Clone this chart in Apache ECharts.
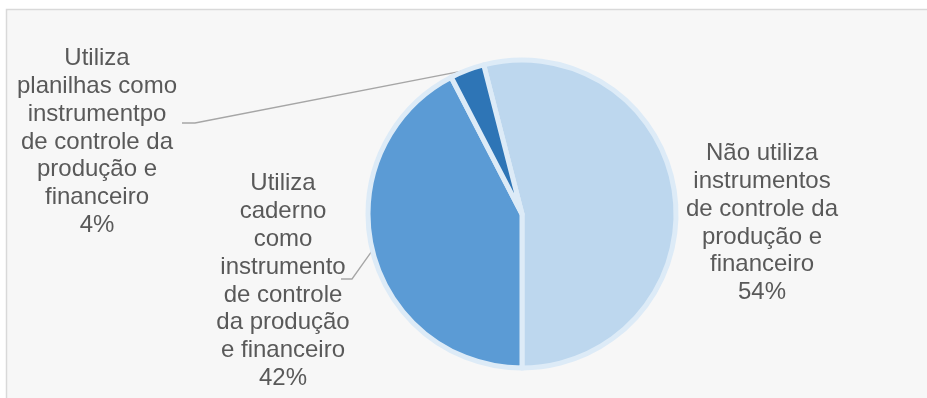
<!DOCTYPE html>
<html><head><meta charset="utf-8">
<script src="https://cdn.jsdelivr.net/npm/echarts@6/dist/echarts.min.js"></script>
<style>html,body{margin:0;padding:0;background:#fff;} #c{width:927px;height:398px;}</style>
</head><body><div id="c"></div>
<script>
const categories = [
  'Não utiliza\ninstrumentos\nde controle da\nprodução e\nfinanceiro',
  'Utiliza\ncaderno\ncomo\ninstrumento\nde controle\nda produção\ne financeiro',
  'Utiliza\nplanilhas como\ninstrumentpo\nde controle da\nprodução e\nfinanceiro'
];
const values = [54.0, 42.4, 3.6];
const colors = ['#BDD7EE', '#5B9BD5', '#2E75B6'];

// label placement (layout only)
const labelPos = [
  {x: 762, y: 223},
  {x: 283, y: 281, lineY: 279, lineRight: 341, elbow: 352},
  {x: 97, y: 142, lineY: 123, lineRight: 182, elbow: 195}
];

const chart = echarts.init(document.getElementById('c'), null, {renderer: 'canvas'});
chart.setOption({
  animation: false,
  graphic: [{
    type: 'rect', z: -10, silent: true,
    shape: {x: 6.5, y: 9.5, width: 1000, height: 500},
    style: {fill: '#F7F7F7', stroke: '#D9D9D9', lineWidth: 1.5}
  }],
  series: [{
    type: 'pie',
    center: [522, 214],
    radius: 154,
    startAngle: 104.4,
    clockwise: true,
    avoidLabelOverlap: false,
    silent: true,
    itemStyle: {borderColor: '#DDEBF7', borderWidth: 5},
    label: {
      show: true,
      position: 'outside',
      formatter: function (p) { return p.name + '\n' + Math.round(p.percent) + '%'; },
      color: '#595959',
      fontFamily: 'Liberation Sans, Arial, sans-serif',
      fontSize: 24,
      lineHeight: 27.8,
      align: 'center'
    },
    labelLine: {show: true, lineStyle: {color: '#A6A6A6', width: 1.3}},
    labelLayout: function (params) {
      const p = labelPos[params.dataIndex];
      const out = {x: p.x, y: p.y, align: 'center', verticalAlign: 'middle'};
      if (p.lineY != null && params.labelLinePoints) {
        const a = params.labelLinePoints[0];
        out.labelLinePoints = [a, [p.elbow, p.lineY], [p.lineRight, p.lineY]];
      }
      return out;
    },
    data: categories.map((name, i) => ({
      name: name,
      value: values[i],
      itemStyle: {color: colors[i]},
      labelLine: {show: i !== 0}
    }))
  }]
});
</script>
</body></html>
